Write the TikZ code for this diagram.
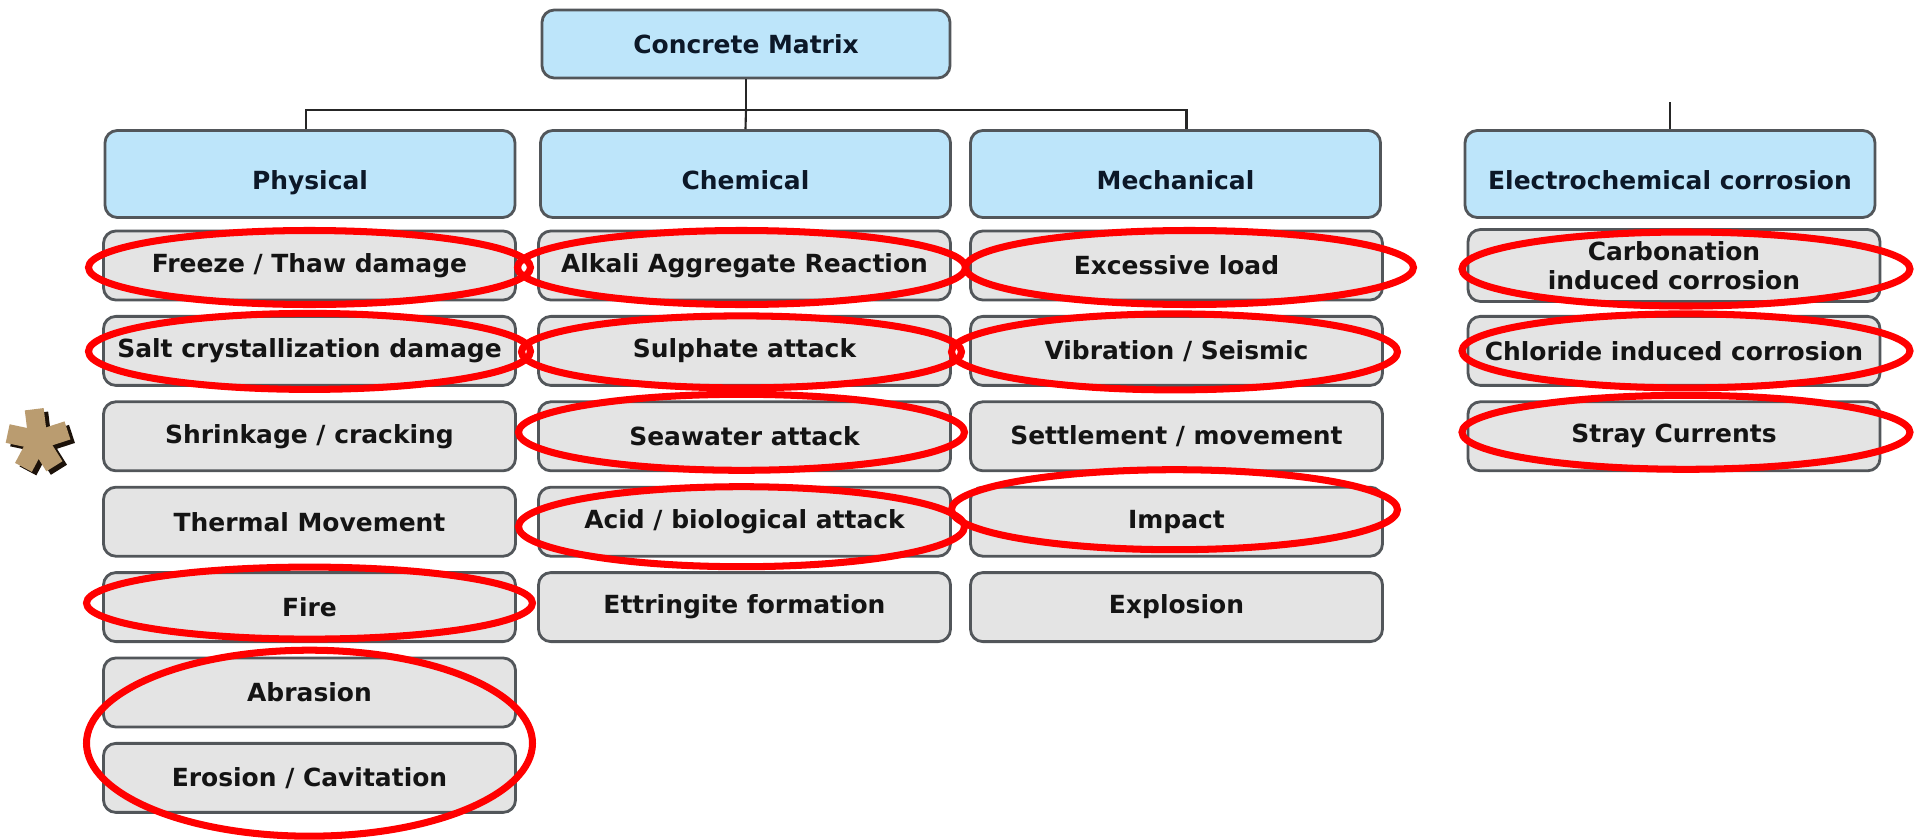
\documentclass[tikz,border=0pt]{standalone}
\usepackage{fontspec}
\setmainfont{DejaVu Sans}
\usetikzlibrary{positioning,calc}

\definecolor{headblue}{RGB}{189,229,250}
\definecolor{itemgrey}{RGB}{228,228,228}
\definecolor{boxline}{RGB}{82,86,90}
\definecolor{headtext}{RGB}{12,24,40}
\definecolor{ringred}{RGB}{255,0,0}
\definecolor{stonelight}{RGB}{186,156,112}
\definecolor{stonedark}{RGB}{28,18,10}

\tikzset{
	boxfont/.style={font=\fontsize{7.1}{8.3}\selectfont\bfseries},
	head/.style={draw=boxline, line width=0.8pt, fill=headblue, rounded corners=3.5pt,
		minimum width=4.1cm, minimum height=0.87cm, boxfont, text=headtext},
	group/.style={head, text height=1.6ex, text depth=0pt},
	item/.style={draw=boxline, line width=0.8pt, fill=itemgrey, rounded corners=3.5pt,
		minimum width=4.12cm, minimum height=0.69cm, boxfont, text=black!92, align=center},
	link/.style={draw=black!85, line width=0.6pt},
	ring/.style={draw=ringred, line width=2pt}
}

\begin{document}
\begin{tikzpicture}
	\useasboundingbox (0,0) rectangle (19.21,-8.40);

	% root and the four groups
	\node[head, minimum width=4.08cm, minimum height=0.68cm] (cm) at (7.46,-0.44) {Concrete Matrix};
	\node[group] (phy) at (3.10,-1.74) {Physical};
	\node[group] (chm) at (7.455,-1.74) {Chemical};
	\node[group] (mec) at (11.755,-1.74) {Mechanical};
	\node[group] (ele) at (16.70,-1.74) {Electrochemical corrosion};

	% tree lines
	\coordinate (bus) at (0,-1.10);
	\draw[link] (cm.south) -- (cm.south |- bus);
	\draw[link] ([xshift=-0.04cm]phy.north) |- ([xshift=0.11cm]mec.north |- bus) -- ([xshift=0.11cm]mec.north);
	\draw[link] (cm.south |- bus) -- (chm.north);
	\draw[link] (ele.north) -- ++(0,0.27);

	% physical
	\node[item] (frz) at (3.095,-2.655) {Freeze / Thaw damage};
	\node[item] (slt) at (3.095,-3.509) {Salt crystallization damage};
	\node[item] (shr) at (3.095,-4.363) {Shrinkage / cracking};
	\node[item] (thm) at (3.095,-5.217) {Thermal Movement};
	\node[item] (fir) at (3.095,-6.071) {Fire};
	\node[item] (abr) at (3.095,-6.925) {Abrasion};
	\node[item] (ero) at (3.095,-7.779) {Erosion / Cavitation};

	% chemical
	\node[item] (aar) at (7.445,-2.655) {Alkali Aggregate Reaction};
	\node[item] (sul) at (7.445,-3.509) {Sulphate attack};
	\node[item] (sea) at (7.445,-4.363) {Seawater attack};
	\node[item] (aci) at (7.445,-5.217) {Acid / biological attack};
	\node[item] (ett) at (7.445,-6.071) {Ettringite formation};

	% mechanical
	\node[item] (exl) at (11.765,-2.655) {Excessive load};
	\node[item] (vib) at (11.765,-3.509) {Vibration / Seismic};
	\node[item] (set) at (11.765,-4.363) {Settlement / movement};
	\node[item] (imp) at (11.765,-5.217) {Impact};
	\node[item] (exp) at (11.765,-6.071) {Explosion};

	% electrochemical
	\node[item] (crb) at (16.74,-2.655) {Carbonation\\induced corrosion};
	\node[item] (chl) at (16.74,-3.509) {Chloride induced corrosion};
	\node[item] (str) at (16.74,-4.363) {Stray Currents};

	% stone asterisk next to shrinkage
	\coordinate (star) at (0.38,-4.40);
	\foreach \a in {97,168,18,242,302}
		\draw[stonedark, line width=0.19cm] ([shift={(0.045,-0.035)}]star) -- +(\a:0.31);
	\foreach \a in {97,168,18,242,302}
		\draw[stonelight, line width=0.19cm] (star) -- +(\a:0.31);

	% red marks
	\draw[ring] ([yshift=-0.02cm]frz.center) ellipse [x radius=2.21cm, y radius=0.37cm];
	\draw[ring] ([yshift=-0.005cm]slt.center) ellipse [x radius=2.21cm, y radius=0.38cm];
	\draw[ring] ([yshift=0.04cm]fir.center) ellipse [x radius=2.23cm, y radius=0.36cm];
	\draw[ring] ([yshift=-0.08cm]$(abr)!0.5!(ero)$) ellipse [x radius=2.23cm, y radius=0.93cm];

	\draw[ring] ([shift={(-0.03,-0.02)}]aar.center) ellipse [x radius=2.24cm, y radius=0.37cm];
	\draw[ring] ([shift={(-0.03,-0.01)}]sul.center) ellipse [x radius=2.20cm, y radius=0.36cm];
	\draw[ring] ([shift={(-0.03,0.04)}]sea.center) ellipse [x radius=2.23cm, y radius=0.38cm];
	\draw[ring] ([shift={(-0.03,-0.05)}]aci.center) ellipse [x radius=2.23cm, y radius=0.40cm];

	\draw[ring] ([shift={(0.13,-0.02)}]exl.center) ellipse [x radius=2.24cm, y radius=0.37cm];
	\draw[ring] ([shift={(-0.02,-0.01)}]vib.center) ellipse [x radius=2.23cm, y radius=0.38cm];
	\draw[ring] ([shift={(-0.02,0.12)}]imp.center) ellipse [x radius=2.23cm, y radius=0.40cm];

	\draw[ring] ([shift={(0.12,-0.035)}]crb.center) ellipse [x radius=2.24cm, y radius=0.37cm];
	\draw[ring] ([shift={(0.12,0)}]chl.center) ellipse [x radius=2.24cm, y radius=0.37cm];
	\draw[ring] ([shift={(0.12,0.04)}]str.center) ellipse [x radius=2.24cm, y radius=0.37cm];
\end{tikzpicture}
\end{document}
